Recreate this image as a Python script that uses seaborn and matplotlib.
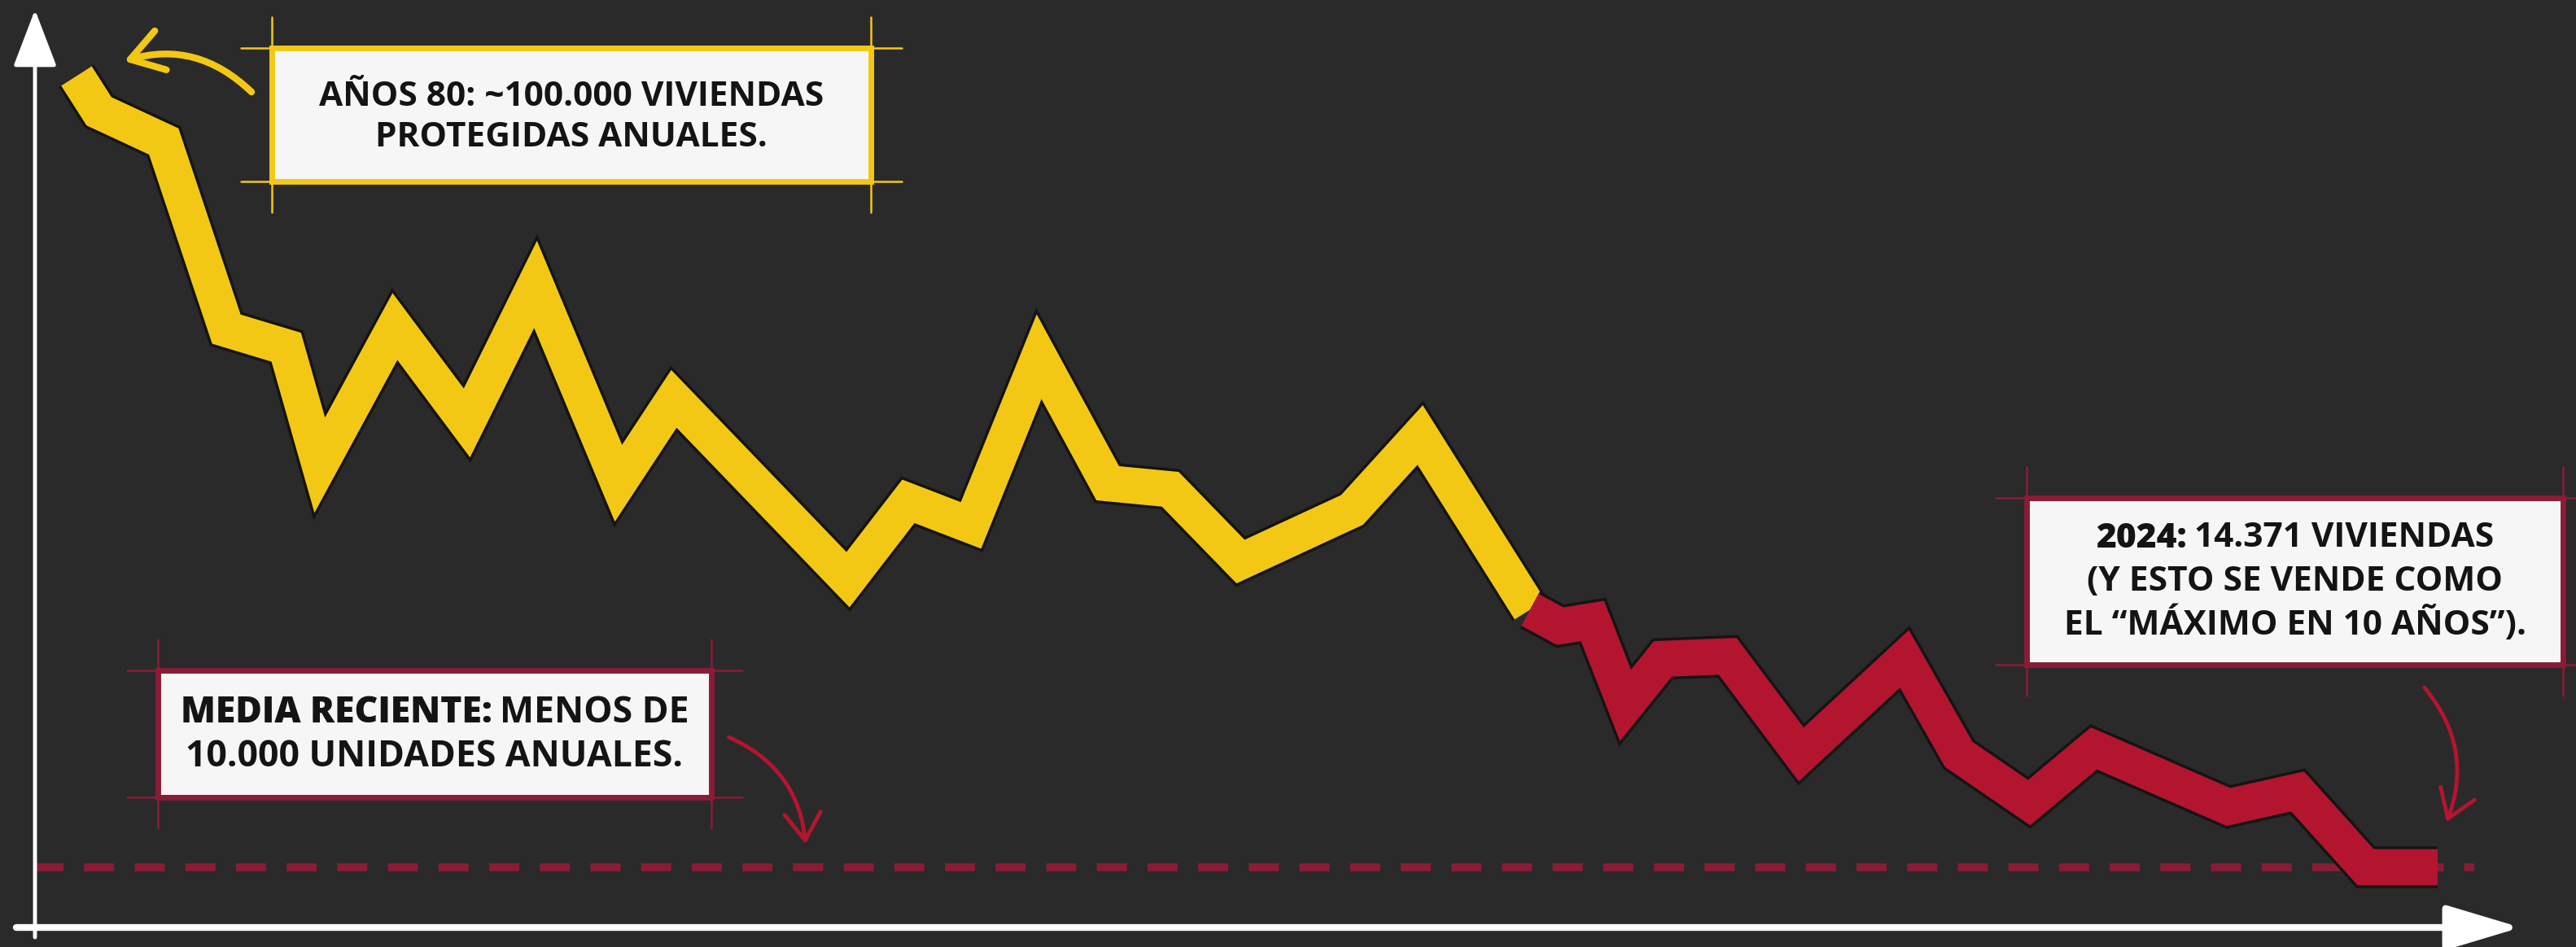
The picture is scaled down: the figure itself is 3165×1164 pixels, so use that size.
import matplotlib
matplotlib.use("Agg")
import matplotlib.pyplot as plt
import matplotlib.patheffects as pe
from matplotlib.patches import Rectangle
import pandas as pd
import seaborn as sns

# Viviendas protegidas al año (lectura aproximada del dibujo)
anios = [1981.00, 1981.41, 1982.59, 1983.73, 1984.82, 1985.43, 1986.80, 1988.11,
         1989.36, 1990.87, 1991.88, 1993.36, 1995.05, 1996.15, 1997.29, 1998.53,
         1999.78, 2000.92, 2002.20, 2004.23, 2005.47, 2007.47, 2008.02, 2008.61,
         2009.21, 2009.89, 2011.07, 2012.41, 2014.29, 2015.28, 2016.56, 2017.74,
         2020.19, 2021.45, 2022.69, 2024.00]
viviendas = [98900, 94800, 91300, 69500, 67400, 53700, 69800, 58600,
             74700, 51600, 61400, 51600, 40400, 49500, 46700, 66300,
             51600, 50900, 42500, 48500, 57200, 36900, 35000, 35600,
             25800, 31200, 31500, 20100, 31200, 20100, 14500, 20800,
             14000, 15800, 7000, 7000]
ANIO_CORTE = 2007.47        # donde la linea pasa de amarillo a rojo
MEDIA_RECIENTE = 7000       # linea discontinua

texto_80 = ["AÑOS 80: ~100.000 VIVIENDAS", "PROTEGIDAS ANUALES."]
texto_media = [("MEDIA RECIENTE:", " MENOS DE"), ("", "10.000 UNIDADES ANUALES.")]
texto_2024 = [("2024:", " 14.371 VIVIENDAS"), ("", "(Y ESTO SE VENDE COMO"),
              ("", "EL \u201cMÁXIMO EN 10 AÑOS\u201d).")]

FONDO = "#2a2a2a"
AMARILLO = "#f3c815"
ROJO = "#b3152f"
GRANATE = "#8a1c36"
TINTA = "#141414"
FUENTE = ["Open Sans", "DejaVu Sans"]

df = pd.DataFrame({"anio": anios, "viviendas": viviendas})
auge = df[df["anio"] <= ANIO_CORTE].assign(tramo="auge")
caida = df[df["anio"] >= ANIO_CORTE].assign(tramo="caida")
datos = pd.concat([auge, caida], ignore_index=True)

W, H = 3165, 1164
sns.set_theme(style="white")
plt.rcParams["font.family"] = FUENTE
fig = plt.figure(figsize=(W / 100, H / 100), dpi=100, facecolor=FONDO)
ax = fig.add_axes([0, 0, 1, 1])
ax.set_facecolor(FONDO)

sns.lineplot(data=datos, x="anio", y="viviendas", hue="tramo",
             palette={"auge": AMARILLO, "caida": ROJO}, estimator=None,
             legend=False, linewidth=32, solid_joinstyle="miter",
             solid_capstyle="butt", ax=ax,
             path_effects=[pe.Stroke(linewidth=37, foreground=TINTA), pe.Normal()])

ax.hlines(MEDIA_RECIENTE, 1980.21, 2024.67, colors=GRANATE, linewidth=7,
          linestyles=(0, (3.8, 2.6)), zorder=1)

ax.set_xlim(1979.607, 2026.52)
ax.set_ylim(-2268, 107730)
ax.axis("off")

# capa de dibujo en pixeles para ejes, cajas y flechas
deco = fig.add_axes([0, 0, 1, 1], zorder=3)
deco.set_xlim(0, W)
deco.set_ylim(H, 0)
deco.axis("off")
deco.patch.set_alpha(0)

# ejes con flecha
deco.annotate("", xy=(43, 12), xytext=(43, 1152),
              arrowprops=dict(arrowstyle="-|>,head_length=1.1,head_width=0.42",
                              color="white", lw=3.5, mutation_scale=40,
                              shrinkA=0, shrinkB=0))
deco.annotate("", xy=(3097, 1140), xytext=(20, 1140),
              arrowprops=dict(arrowstyle="-|>,head_length=1.4,head_width=0.42",
                              color="white", lw=6, mutation_scale=40,
                              shrinkA=0, shrinkB=0))

renderer = fig.canvas.get_renderer()


def caja(x0, y0, x1, y1, color, ext=38):
    deco.add_patch(Rectangle((x0, y0), x1 - x0, y1 - y0, facecolor="#f6f6f6",
                             edgecolor=color, lw=5, zorder=4))
    for y in (y0, y1):
        deco.plot([x0 - ext, x1 + ext], [y, y], color=color, lw=1.8, zorder=4)
    for x in (x0, x1):
        deco.plot([x, x], [y0 - ext, y1 + ext], color=color, lw=1.8, zorder=4)


def linea(cx, cy, negrita, normal, size):
    partes = []
    if negrita:
        partes.append(deco.text(0, cy, negrita, fontsize=size, fontweight="heavy",
                                color=TINTA, va="center", ha="left", zorder=5))
    partes.append(deco.text(0, cy, normal.strip(), fontsize=size, fontweight="bold",
                            color=TINTA, va="center", ha="left", zorder=5))
    anchos = [t.get_window_extent(renderer).width for t in partes]
    hueco = size * 0.3 if negrita else 0
    x = cx - (sum(anchos) + hueco) / 2
    for t, a in zip(partes, anchos):
        t.set_x(x)
        x += a + hueco


caja(334, 59, 1070, 223, AMARILLO)
for i, txt in enumerate(texto_80):
    linea(702, 119 + 51 * i, "", txt, 30.5)

caja(194, 824, 874, 980, GRANATE)
for i, (b, n) in enumerate(texto_media):
    linea(534, 876 + 54 * i, b, n, 32)

caja(2490, 612, 3149, 817, GRANATE)
for i, (b, n) in enumerate(texto_2024):
    linea(2820, 662 + 53 * i, b, n, 30.5)

# flechas de las notas
deco.annotate("", xy=(150, 76), xytext=(311, 115),
              arrowprops=dict(arrowstyle="->,head_length=0.7,head_width=0.45",
                              color=AMARILLO, lw=6, mutation_scale=40,
                              connectionstyle="arc3,rad=0.3"))
deco.annotate("", xy=(990, 1040), xytext=(893, 905),
              arrowprops=dict(arrowstyle="->,head_length=0.6,head_width=0.4",
                              color=ROJO, lw=3.5, mutation_scale=40,
                              connectionstyle="arc3,rad=-0.3"))
deco.annotate("", xy=(3005, 1013), xytext=(2977, 843),
              arrowprops=dict(arrowstyle="->,head_length=0.6,head_width=0.4",
                              color=ROJO, lw=3.5, mutation_scale=40,
                              connectionstyle="arc3,rad=-0.3"))

fig.savefig("out.png", dpi=100, facecolor=FONDO)
